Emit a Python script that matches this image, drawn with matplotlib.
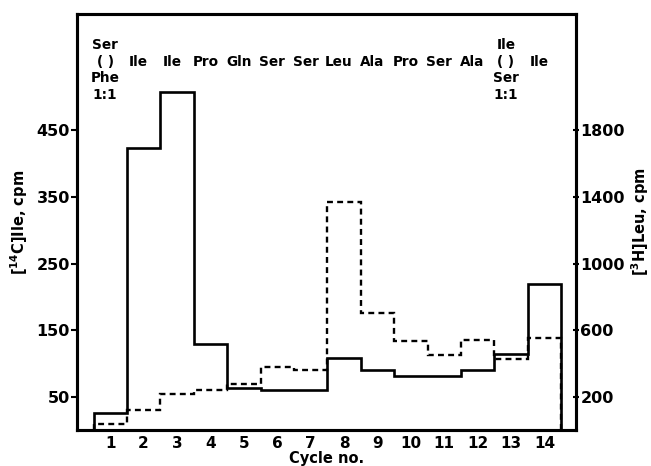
import numpy as np
import matplotlib
matplotlib.use("Agg")
import matplotlib.pyplot as plt

plt.rcParams['font.family'] = ['DejaVu Sans']
plt.rcParams['font.weight'] = 'bold'
plt.rcParams['axes.labelweight'] = 'bold'
plt.rcParams['mathtext.fontset'] = 'dejavusans'
plt.rcParams['mathtext.default'] = 'bf'

# data
cycles = np.arange(1, 15)
ile_14c = [25, 424, 508, 129, 64, 60, 60, 108, 91, 81, 81, 91, 115, 219]
leu_3h = [35, 120, 216, 240, 276, 378, 360, 1368, 702, 534, 450, 540, 426, 552]
residues = [["Ser", "( )", "Phe", "1:1"], ["Ile"], ["Ile"], ["Pro"], ["Gln"], ["Ser"],
            ["Ser"], ["Leu"], ["Ala"], ["Pro"], ["Ser"], ["Ala"],
            ["Ile", "( )", "Ser", "1:1"], ["Ile"]]
left_ticks = [50, 150, 250, 350, 450]
right_ticks = [200, 600, 1000, 1400, 1800]

fig = plt.figure(figsize=(6.51, 4.66), dpi=100)
ax = fig.add_axes([0.118, 0.077, 0.767, 0.893])
ax2 = ax.twinx()

edges = np.append(cycles - 0.5, cycles[-1] + 0.5)
ax.stairs(ile_14c, edges, baseline=0, color='black', lw=1.9)
ax2.stairs(leu_3h, edges, baseline=0, color='black', lw=1.7, ls=(0, (2.5, 1.8)))

ax.set_xlim(0, 14.95)
ax.set_ylim(0, 625)
ax2.set_ylim(0, 2500)

ax.set_xticks(cycles)
ax.set_yticks(left_ticks)
ax2.set_yticks(right_ticks)
ax.tick_params(axis='x', length=0, pad=4, labelsize=11)
ax.tick_params(axis='y', length=4, width=1.5, pad=1, labelsize=11.5)
ax2.tick_params(axis='y', length=4, width=1.5, pad=1, labelsize=11.5, direction='inout')

for a in (ax, ax2):
    for s in a.spines.values():
        s.set_linewidth(2.2)

ax.set_xlabel("Cycle no.", fontsize=10.5, labelpad=0)
ax.set_ylabel("[$^{14}$C]Ile, cpm", fontsize=10.5, labelpad=5)
ax2.set_ylabel("[$^{3}$H]Leu, cpm", fontsize=10.5, labelpad=3)

# residue labels across the top
row_y = 0.885
line_h = 0.04
for c, lines in zip(cycles, residues):
    anchor = 1 if len(lines) > 1 else 0
    for j, txt in enumerate(lines):
        ax.text(c - 0.15, row_y - (j - anchor) * line_h, txt, transform=ax.get_xaxis_transform(),
                ha='center', va='center', fontsize=9.8, fontweight='bold')

fig.savefig("out.png", dpi=100)
